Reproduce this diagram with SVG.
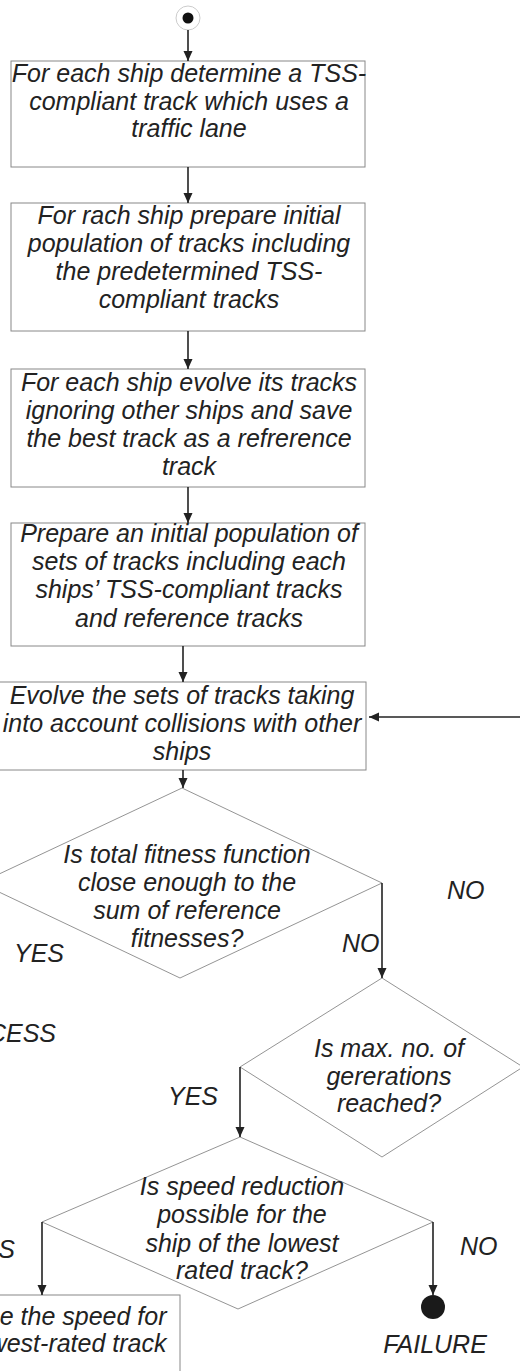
<svg xmlns="http://www.w3.org/2000/svg" width="520" height="1371" viewBox="0 0 520 1371">
<style>
text{font-family:"Liberation Sans",Arial,sans-serif;font-style:italic;font-size:25px;fill:#222}
.c{text-anchor:middle}
.e{text-anchor:end}
.box{fill:#fff;stroke:#888;stroke-width:1}
.dia{fill:#fff;stroke:#888;stroke-width:0.9}
.con{stroke:#222;stroke-width:1.6;fill:none}
</style>
<defs>
<marker id="ah" markerUnits="userSpaceOnUse" markerWidth="11" markerHeight="10" refX="10" refY="5" orient="auto">
<path d="M0,0.5 L10,5 L0,9.5 z" fill="#222"/>
</marker>
</defs>
<rect width="520" height="1371" fill="#fff"/>

<g id="start">
<circle cx="188" cy="18" r="12" fill="#fff" stroke="#ccc" stroke-width="1"/>
<circle cx="188" cy="18" r="5.5" fill="#111"/>
</g>

<g id="box1">
<rect class="box" x="11" y="61" width="354" height="106"/>
<text class="c" x="189" y="82">For each ship determine a TSS-</text>
<text class="c" x="189" y="109.5">compliant track which uses a</text>
<text class="c" x="189" y="137">traffic lane</text>
</g>

<g id="box2">
<rect class="box" x="11" y="203" width="354" height="128"/>
<text class="c" x="189" y="223.5">For rach ship prepare initial</text>
<text class="c" x="189" y="251.5">population of tracks including</text>
<text class="c" x="189" y="280">the predetermined TSS-</text>
<text class="c" x="189" y="308">compliant tracks</text>
</g>

<g id="box3">
<rect class="box" x="11" y="369" width="354" height="118"/>
<text class="c" x="189" y="391">For each ship evolve its tracks</text>
<text class="c" x="189" y="419">ignoring other ships and save</text>
<text class="c" x="189" y="447">the best track as a refrerence</text>
<text class="c" x="189" y="475">track</text>
</g>

<g id="box4">
<rect class="box" x="11" y="523" width="354" height="123"/>
<text class="c" x="189" y="542">Prepare an initial population of</text>
<text class="c" x="189" y="570">sets of tracks including each</text>
<text class="c" x="189" y="598">ships’ TSS-compliant tracks</text>
<text class="c" x="189" y="627">and reference tracks</text>
</g>

<g id="box5">
<rect class="box" x="-1" y="682" width="367" height="88"/>
<text class="c" x="182" y="704">Evolve the sets of tracks taking</text>
<text class="c" x="182" y="732">into account collisions with other</text>
<text class="c" x="182" y="760">ships</text>
</g>

<g id="decision1">
<polygon class="dia" points="182,788 382,883 180,978 -20,883"/>
<text class="c" x="187" y="863">Is total fitness function</text>
<text class="c" x="187" y="891">close enough to the</text>
<text class="c" x="187" y="919">sum of reference</text>
<text class="c" x="187" y="947">fitnesses?</text>
</g>

<g id="decision2">
<polygon class="dia" points="382,978 523,1067 382,1157 240,1067"/>
<text class="c" x="389" y="1057">Is max. no. of</text>
<text class="c" x="389" y="1085">gererations</text>
<text class="c" x="389" y="1112">reached?</text>
</g>

<g id="decision3">
<polygon class="dia" points="240,1137 433,1222 238,1309 42,1222"/>
<text class="c" x="242" y="1195">Is speed reduction</text>
<text class="c" x="242" y="1223">possible for the</text>
<text class="c" x="242" y="1252">ship of the lowest</text>
<text class="c" x="242" y="1279">rated track?</text>
</g>

<g id="box6">
<rect class="box" x="-96" y="1295" width="276" height="110"/>
<text class="c" x="47" y="1325">Reduce the speed for</text>
<text class="c" x="47" y="1352">the lowest-rated track</text>
</g>

<g id="failure">
<circle cx="433" cy="1307" r="12" fill="#1a1a1a"/>
<text class="c" x="435" y="1353">FAILURE</text>
</g>

<g id="success">
<text class="e" x="56" y="1042">SUCCESS</text>
</g>

<g id="connectors">
<line class="con" x1="188" y1="30" x2="188" y2="61" marker-end="url(#ah)"/>
<line class="con" x1="188" y1="167" x2="188" y2="203" marker-end="url(#ah)"/>
<line class="con" x1="188" y1="331" x2="188" y2="369" marker-end="url(#ah)"/>
<line class="con" x1="188" y1="487" x2="188" y2="523" marker-end="url(#ah)"/>
<line class="con" x1="183" y1="646" x2="183" y2="682" marker-end="url(#ah)"/>
<line class="con" x1="183" y1="770" x2="183" y2="788" marker-end="url(#ah)"/>
<line class="con" x1="522" y1="717" x2="369" y2="717" marker-end="url(#ah)"/>
<line class="con" x1="382" y1="883" x2="382" y2="978" marker-end="url(#ah)"/>
<line class="con" x1="240" y1="1067" x2="240" y2="1137" marker-end="url(#ah)"/>
<line class="con" x1="42" y1="1222" x2="42" y2="1295" marker-end="url(#ah)"/>
<line class="con" x1="433" y1="1222" x2="433" y2="1295" marker-end="url(#ah)"/>
<text x="447" y="899">NO</text>
<text x="342" y="952">NO</text>
<text x="14" y="962">YES</text>
<text x="168" y="1105">YES</text>
<text class="e" x="15" y="1258">YES</text>
<text x="460" y="1255">NO</text>
</g>
</svg>
